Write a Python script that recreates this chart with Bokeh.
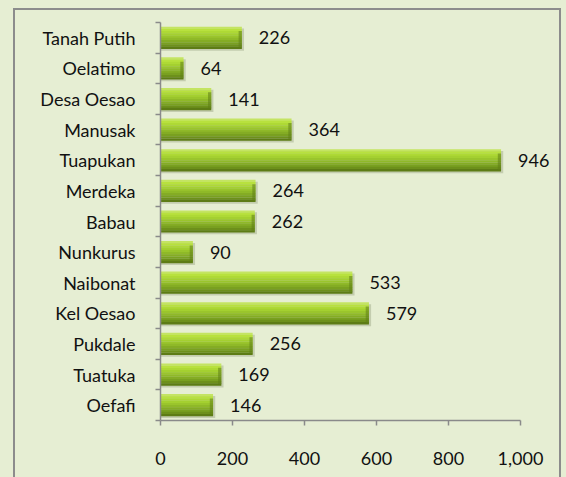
from bokeh.plotting import figure
from bokeh.models import (ColumnDataSource, FixedTicker, NumeralTickFormatter,
                          LabelSet, Range1d)
from bokeh.core.properties import value
from bokeh.embed import file_html
from bokeh.resources import INLINE

# ---- data (top to bottom as shown) ----
categories = ["Tanah Putih", "Oelatimo", "Desa Oesao", "Manusak", "Tuapukan",
              "Merdeka", "Babau", "Nunkurus", "Naibonat", "Kel Oesao",
              "Pukdale", "Tuatuka", "Oefafi"]
values = [226, 64, 141, 364, 946, 264, 262, 90, 533, 579, 256, 169, 146]
x_ticks = [0, 200, 400, 600, 800, 1000]

BG = "#E6EED3"
FONT = "Lato"
FS = "18px"

n = len(categories)
ypos = [n - 1 - i for i in range(n)]

p = figure(width=566, height=477, output_backend="svg", toolbar_location=None,
           x_range=Range1d(0, 1100), y_range=Range1d(-0.5, n - 0.5),
           min_border_left=160, min_border_right=10, min_border_top=22,
           min_border_bottom=57)
p.background_fill_color = BG
p.border_fill_color = BG
p.outline_line_color = None
p.xgrid.visible = False
p.ygrid.visible = False

# bar gradient made of thin strips
h = 0.72
strip_colors = ["#C4E462", "#B8E13E", "#AED935", "#A4D030", "#9AC52C",
                "#8FB928", "#84AC24", "#79A020", "#6D901B", "#5D7C15"]
ns = len(strip_colors)
step = h / ns

# soft shadow
p.hbar(y=[y - 0.06 for y in ypos], right=[v + 6 for v in values], left=0,
       height=h, color="#4d5a30", alpha=0.22, line_color=None)

for k, c in enumerate(strip_colors):
    off = h / 2 - step * (k + 0.5)
    p.hbar(y=[y + off for y in ypos], right=values, left=0,
           height=step * 1.08, color=c, line_color=None)

# right bevel darker edge
p.hbar(y=[y - 0.05 for y in ypos], left=[v - 9 for v in values], right=values,
       height=h * 0.75, color="#5E7D15", alpha=0.55, line_color=None)

src = ColumnDataSource(dict(x=values, y=ypos, t=[str(v) for v in values]))
labels = LabelSet(x="x", y="y", text="t", source=src, x_offset=17,
                  text_baseline="middle", text_align="left",
                  text_font=value(FONT), text_font_size=value(FS),
                  text_color="#111111")
p.add_layout(labels)

AX = "#8A8A8A"
# x axis
p.xaxis.ticker = FixedTicker(ticks=x_ticks)
p.xaxis.bounds = (0, 1000)
p.xaxis.formatter = NumeralTickFormatter(format="0,0")
p.xaxis.axis_line_color = AX
p.xaxis.axis_line_width = 1.5
p.xaxis.major_tick_line_color = AX
p.xaxis.major_tick_line_width = 1.5
p.xaxis.major_tick_out = 5
p.xaxis.major_tick_in = 0
p.xaxis.minor_tick_line_color = None
p.xaxis.major_label_standoff = 26
p.xaxis.major_label_text_font = FONT
p.xaxis.major_label_text_font_size = FS
p.xaxis.major_label_text_color = "#111111"

# y axis: labels at centres, ticks at boundaries
p.yaxis.ticker = FixedTicker(ticks=ypos, minor_ticks=[y - 0.5 for y in ypos] + [n - 0.5])
p.yaxis.major_label_overrides = {y: c for y, c in zip(ypos, categories)}
p.yaxis.axis_line_color = AX
p.yaxis.axis_line_width = 1.5
p.yaxis.major_tick_line_color = None
p.yaxis.major_tick_out = 0
p.yaxis.major_tick_in = 0
p.yaxis.minor_tick_line_color = AX
p.yaxis.minor_tick_line_width = 1.5
p.yaxis.minor_tick_out = 5
p.yaxis.minor_tick_in = 0
p.yaxis.major_label_standoff = 20
p.yaxis.major_label_text_font = FONT
p.yaxis.major_label_text_font_size = FS
p.yaxis.major_label_text_color = "#111111"

tmpl = """
{% block postamble %}
<style>
html, body { background: """ + BG + """; margin: 0; overflow: hidden; }
body::after { content: ""; position: fixed; left: 13px; top: 8px;
  width: 548px; height: 600px; box-sizing: border-box;
  border: 2px solid #8C8C8C; pointer-events: none; z-index: 100; }
</style>
{% endblock %}
"""

open("out.html", "w").write(file_html(p, INLINE, template=tmpl))
